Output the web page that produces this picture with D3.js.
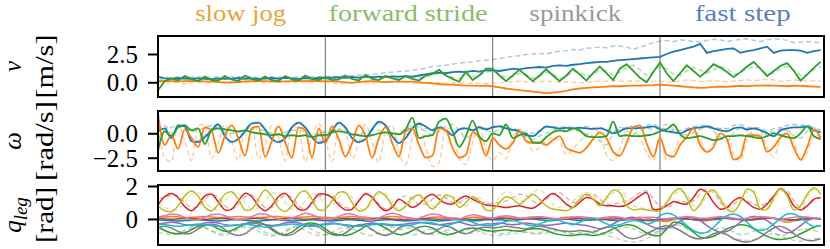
<!DOCTYPE html>
<html>
<head>
<meta charset="utf-8">
<script src="https://cdn.jsdelivr.net/npm/d3@7"></script>
<style>
  body { margin: 0; background: #fff; }
  svg { display: block; }
</style>
</head>
<body>
<svg id="chart" width="830" height="249"></svg>
<script>
// sample step (time units) shared by every series
const DT = 0.04;
const FONT = "'Liberation Serif', 'DejaVu Serif', 'DejaVu Sans', serif";

const phases = ["slow jog", "forward stride", "spinkick", "fast step"];
const phaseColors = ["#e9a23b", "#8cbb6c", "#9a9a9a", "#5b80c0"];
const phaseWidths = [91, 159, 92, 96];
const phaseBounds = [1, 2, 3];

const vTicks = [0, 2.5];
const wTicks = [-2.5, 0];
const qTicks = [0, 2];

// ---- linear velocity v [m/s]
const vBlue = [0.45,0.35,0.3,0.38,0.32,0.3,0.36,0.3,0.28,0.35,0.3,0.33,0.38,0.3,0.35,0.3,0.33,0.38,0.32,0.4,0.35,0.3,0.38,0.33,0.4,
  0.42,0.4,0.45,0.4,0.48,0.42,0.5,0.45,0.5,0.48,0.52,0.5,0.55,0.5,0.6,0.7,0.8,0.85,0.8,0.9,0.95,0.9,1.0,0.95,1.05,
  1.05,1.0,1.1,1.2,1.15,1.25,1.3,1.35,1.3,1.45,1.5,1.45,1.55,1.6,1.7,1.75,1.8,1.8,1.9,1.95,2.0,2.05,2.1,2.15,2.2,
  2.25,2.5,2.7,2.85,3.0,3.15,3.4,2.6,2.75,2.85,2.95,3.0,2.6,2.75,2.85,3.0,3.15,2.6,2.8,2.85,2.85,2.8,2.6,2.75,2.85];
const vBlueRef = [0.5,0.45,0.4,0.5,0.42,0.45,0.5,0.4,0.45,0.5,0.42,0.48,0.5,0.45,0.5,0.42,0.48,0.5,0.45,0.5,0.45,0.5,0.42,0.5,0.48,
  0.5,0.55,0.5,0.6,0.55,0.65,0.6,0.7,0.75,0.85,0.9,0.95,1.0,1.05,1.15,1.25,1.4,1.45,1.5,1.6,1.7,1.75,1.8,1.9,1.95,
  2.0,2.1,2.2,2.3,2.35,2.45,2.5,2.55,2.5,2.65,2.75,2.8,2.9,2.85,3.0,3.05,3.1,3.05,3.2,3.2,3.1,2.9,3.1,3.3,3.5,
  3.65,3.7,3.6,3.75,3.7,3.6,3.55,3.7,3.8,3.75,3.6,3.7,3.8,3.85,3.7,3.6,3.75,3.85,3.8,3.7,3.5,3.55,3.6,3.55,3.5];
const vOrange = [0.1,0.12,0.1,0.08,0.1,0.12,0.1,0.08,0.05,0.02,0.0,-0.02,0.02,0.08,0.1,0.12,0.1,0.08,0.05,0.08,0.1,0.12,0.1,0.12,0.1,
  0.1,0.08,0.05,0.0,-0.05,0.02,0.08,0.1,0.05,0.02,0.05,0.05,0.05,0.05,0.0,-0.05,-0.1,-0.15,-0.2,-0.2,-0.25,-0.3,-0.3,-0.32,-0.3,
  -0.35,-0.45,-0.55,-0.62,-0.7,-0.75,-0.82,-0.9,-0.95,-0.92,-0.85,-0.75,-0.62,-0.55,-0.5,-0.45,-0.42,-0.38,-0.35,-0.35,-0.32,-0.3,-0.3,-0.28,-0.25,
  -0.2,-0.25,-0.3,-0.35,-0.4,-0.45,-0.5,-0.48,-0.4,-0.38,-0.4,-0.35,-0.32,-0.35,-0.3,-0.3,-0.28,-0.3,-0.32,-0.35,-0.3,-0.32,-0.35,-0.38,-0.4];
const vOrangeRef = [0.0,-0.1,-0.05,0.0,-0.15,-0.05,0.0,-0.1,0.0,0.05,-0.1,0.0,0.05,-0.05,0.0,0.05,-0.05,0.05,0.0,0.05,-0.05,0.0,0.05,0.0,0.05,
  0.0,-0.05,-0.15,-0.1,0.0,0.05,-0.05,-0.1,0.0,0.0,0.0,0.05,0.0,-0.05,-0.1,-0.05,0.0,-0.05,-0.1,-0.05,-0.05,-0.1,-0.05,-0.1,-0.1,
  -0.1,-0.05,0.0,0.05,0.1,0.05,0.0,0.05,0.1,0.05,0.0,0.05,0.0,-0.05,0.0,0.05,0.1,0.1,0.15,0.1,0.1,0.15,0.1,0.15,0.1,
  0.1,0.0,0.05,0.1,0.2,0.15,0.05,0.1,0.15,0.1,0.05,0.1,0.15,0.2,0.15,0.2,0.25,0.2,0.1,0.15,0.2,0.15,0.1,0.15,0.1];
const vGreen = [-0.7,0.1,0.35,0.15,0.55,0.3,0.1,0.5,0.2,0.15,0.55,0.25,0.1,0.6,0.3,0.15,0.5,0.2,0.1,0.55,0.25,0.15,0.6,0.3,0.2,
  0.45,0.2,0.25,0.6,0.3,0.15,0.65,0.3,0.2,0.55,0.35,0.2,0.55,0.3,0.15,0.6,0.75,1.1,0.6,0.3,0.05,0.95,0.2,0.6,1.2,
  1.2,0.6,0.1,0.6,1.1,0.6,0.1,0.6,1.15,0.6,0.1,0.6,1.2,0.7,0.15,0.8,1.4,0.8,0.2,1.2,1.6,1.0,0.4,0.0,0.9,
  1.75,0.8,0.1,0.8,1.5,1.0,0.5,1.0,1.6,1.3,0.9,0.45,0.9,1.4,1.8,1.2,0.55,1.0,1.45,1.7,1.0,0.15,0.7,1.3,1.8];
const vGreenRef = [0.2,0.25,0.3,0.2,0.35,0.3,0.2,0.35,0.25,0.3,0.35,0.25,0.2,0.4,0.3,0.25,0.35,0.25,0.2,0.4,0.3,0.25,0.35,0.3,0.3,
  0.3,0.25,0.3,0.4,0.3,0.3,0.45,0.35,0.3,0.45,0.4,0.35,0.5,0.45,0.4,0.5,0.6,0.8,0.65,0.45,0.3,0.7,0.5,0.6,0.9,
  1.0,0.7,0.4,0.5,0.8,0.7,0.35,0.5,0.9,0.75,0.3,0.5,0.95,0.9,0.5,0.7,1.1,1.0,0.6,0.9,1.3,1.5,1.1,0.6,0.9,
  1.4,1.2,0.7,0.6,1.0,1.3,1.1,0.8,1.1,1.4,1.2,0.7,0.8,1.2,1.4,1.2,0.7,0.8,1.2,1.4,1.1,0.6,0.7,1.1,1.4];

// ---- angular velocity omega [rad/s]
const wBlue = [0.2,0.5,-0.5,0.8,0.7,-0.8,-0.9,-0.4,0.3,0.9,-0.3,-0.9,-0.6,0.2,1.0,1.1,0.4,-0.6,-0.9,-0.5,0.6,1.1,0.6,-0.4,-1.0,
  -0.8,0.2,1.1,0.6,-0.5,-0.9,-0.6,0.4,1.2,0.8,-0.3,-1.0,-0.5,0.5,1.0,0.7,0.3,0.6,0.3,-0.2,0.4,0.5,0.3,0.6,0.4,
  0.6,0.7,0.5,0.35,0.2,-0.2,-0.3,0.2,0.7,0.6,0.5,0.55,0.5,0.55,0.5,0.45,0.5,0.3,0.0,0.2,0.5,0.5,0.55,0.6,0.7,
  0.4,0.2,0.1,0.0,0.3,0.5,0.6,0.7,0.5,0.3,0.2,0.5,0.6,0.4,0.5,0.3,0.0,-0.3,0.3,0.5,0.6,0.6,0.7,0.3,0.1];
const wBlueRef = [0.3,0.8,0.0,0.6,0.9,-0.5,-0.8,-0.2,0.5,1.0,0.0,-0.8,-0.5,0.3,1.0,1.0,0.3,-0.5,-0.8,-0.3,0.7,1.0,0.5,-0.3,-0.8,
  -0.6,0.3,1.0,0.5,-0.4,-0.8,-0.4,0.5,1.0,0.7,-0.2,-0.8,-0.3,0.6,0.9,0.5,0.4,0.7,0.4,0.0,0.5,0.6,0.4,0.7,0.5,
  0.7,0.8,0.6,0.5,0.3,0.1,0.0,0.3,0.6,0.7,0.6,0.7,0.6,0.6,0.7,0.5,0.6,0.4,0.2,0.4,0.6,0.7,0.6,0.8,0.9,
  0.6,0.4,0.3,0.3,0.5,0.7,0.8,0.8,0.6,0.5,0.5,0.8,0.9,0.6,0.6,0.5,0.2,0.1,0.5,0.8,0.9,0.8,0.9,0.5,0.3];
const wOrange = [2.0,-1.2,-0.2,-1.6,0.4,-0.5,-1.4,0.6,0.3,-2.0,-0.3,0.8,-0.5,-2.3,0.5,0.7,-2.4,-0.8,0.7,-0.9,-2.5,0.6,0.3,-2.5,0.5,
  -1.0,0.7,-0.6,-2.4,-1.0,0.8,-0.3,-2.5,-0.5,0.6,-1.0,-2.4,0.2,0.5,-1.2,-2.5,-2.3,0.5,0.3,-1.5,-2.5,-2.2,0.1,-0.5,-2.3,
  -0.5,-1.2,-1.6,-1.0,0.2,-0.8,-1.0,-0.9,-1.2,-0.7,-0.3,-1.5,-1.8,-2.0,-1.5,-0.6,0.1,-0.5,-1.9,-2.3,-1.0,0.6,0.8,-1.0,-2.4,
  -0.5,-2.2,-2.4,-1.2,-0.4,0.5,-1.2,-1.9,-1.4,0.0,-0.6,-2.7,-2.4,-0.2,-0.2,-0.3,-1.9,-1.4,-0.4,0.0,-1.5,-2.7,-1.4,0.4,-0.5];
const wOrangeRef = [0.5,-2.5,-2.9,0.9,-0.8,-2.8,0.8,0.9,-2.6,-1.0,0.9,-0.6,-2.8,0.5,0.8,-2.6,-1.2,0.8,-0.4,-2.8,0.7,0.5,-2.9,-0.5,1.0,
  -0.5,-2.9,0.5,0.3,-2.6,-1.0,0.9,-1.0,-3.0,0.2,0.8,-2.0,-3.2,-0.5,1.0,-1.5,-3.4,-3.0,0.6,0.2,-2.6,-3.2,-1.0,0.9,-1.8,
  -2.8,-2.0,-2.6,-0.4,0.4,-0.6,-1.8,-1.5,-0.8,-0.4,-0.8,-2.2,-1.6,-0.8,-0.2,0.6,-0.2,-2.2,-2.8,-1.6,0.4,0.8,-0.5,-2.0,-2.8,
  -0.2,-2.8,-2.0,-0.5,0.3,0.6,-0.5,-2.0,-1.0,0.5,0.4,-2.2,-2.8,-0.8,0.4,0.2,-1.5,-2.4,-0.6,0.5,-0.8,-2.8,-2.0,-0.2,-0.4];
const wGreen = [-1.8,0.2,-0.3,0.6,0.8,0.3,0.5,-1.1,0.3,0.5,0.4,0.3,0.2,0.3,0.1,0.0,-0.1,-0.2,-0.1,-0.3,-0.2,-0.3,-0.2,-0.4,-0.2,
  -0.2,0.1,0.2,0.1,-0.1,-0.2,-0.3,-0.2,0.0,0.1,0.0,-0.1,0.4,1.6,-0.5,-0.3,-0.2,1.2,1.5,0.2,-1.4,-0.3,1.3,-0.3,-0.8,
  0.0,-0.2,0.9,-0.5,-0.2,0.0,-0.9,-1.0,-0.4,0.1,0.3,0.2,0.5,0.3,-0.3,-0.4,-0.4,-0.3,1.2,-0.3,-0.2,-0.3,-0.3,-0.2,-0.1,
  0.2,0.4,0.9,-0.1,-0.5,-0.4,-0.3,-0.5,-0.7,-0.6,-0.3,-0.3,-0.2,-0.3,-0.4,-0.5,-0.3,0.0,-0.2,-0.4,-0.5,0.0,0.7,-0.3,-0.6];
const wGreenRef = [-0.5,0.3,0.6,0.8,0.5,0.2,0.3,0.6,0.8,0.5,0.2,0.0,0.1,0.4,0.6,0.5,0.2,0.0,-0.1,0.1,0.3,0.3,0.1,-0.1,0.0,
  0.1,0.3,0.4,0.2,0.0,-0.1,0.1,0.3,0.3,0.1,0.0,0.1,0.4,0.8,0.6,0.2,-0.2,0.2,0.7,0.9,0.3,-0.5,0.0,0.6,0.3,
  0.1,0.4,0.6,0.2,-0.2,-0.4,-0.6,-0.3,0.0,0.3,0.5,0.4,0.3,0.2,-0.1,-0.3,-0.8,-1.2,0.0,0.6,0.3,-0.1,0.3,0.5,0.4,
  0.6,0.9,0.4,0.0,-0.2,0.1,0.4,0.6,0.2,-0.4,-0.8,0.0,0.5,0.3,-0.2,-0.5,0.0,0.5,0.6,0.3,-0.3,-0.5,0.2,0.6,0.3];

// ---- leg joint positions q_leg [rad]
const qBlue = [-0.05,-0.08,-0.1,-0.12,-0.1,-0.08,-0.05,-0.08,-0.1,-0.12,-0.1,-0.05,-0.05,-0.08,-0.12,-0.12,-0.1,-0.05,-0.05,-0.1,-0.12,-0.1,-0.08,-0.05,-0.08,
  -0.1,-0.12,-0.1,-0.05,-0.05,-0.08,-0.12,-0.12,-0.08,-0.05,-0.05,-0.1,-0.12,-0.1,-0.05,-0.05,-0.1,-0.12,-0.1,-0.05,-0.05,-0.08,-0.12,-0.1,-0.05,
  -0.05,-0.05,-0.08,-0.1,-0.05,0.0,0.0,-0.05,-0.1,-0.1,-0.05,0.0,-0.05,-0.1,-0.08,-0.05,0.0,-0.05,-0.1,-0.08,-0.05,0.0,-0.05,-0.1,-0.1,
  -0.1,-0.05,0.0,0.05,0.0,-0.05,-0.1,-0.1,-0.05,0.0,0.05,0.0,-0.05,-0.1,-0.05,0.0,0.05,0.05,0.0,-0.05,-0.1,-0.05,0.0,0.05,0.0];
const qOrange = [0.1,0.12,0.15,0.12,0.08,0.1,0.12,0.15,0.12,0.08,0.1,0.12,0.15,0.12,0.1,0.08,0.1,0.15,0.15,0.1,0.08,0.1,0.12,0.15,0.12,
  0.1,0.08,0.1,0.12,0.15,0.12,0.1,0.05,0.08,0.12,0.15,0.12,0.1,0.05,0.0,0.05,0.1,0.12,0.1,0.05,0.02,0.05,0.1,0.1,0.05,
  0.05,0.1,0.12,0.08,0.05,0.08,0.12,0.1,0.05,0.0,0.05,0.1,0.12,0.08,0.0,-0.05,0.0,0.08,0.1,0.05,0.0,0.05,0.1,0.05,-0.05,
  -0.1,-0.15,-0.05,0.05,0.1,0.05,-0.05,-0.1,0.0,0.1,0.12,0.05,-0.05,-0.1,0.0,0.08,0.1,0.05,-0.1,-0.2,-0.1,0.05,0.1,0.05,0.0];
const qGreen = [-0.45,-0.7,-0.85,-0.9,-0.85,-0.65,-0.45,-0.35,-0.4,-0.6,-0.75,-0.7,-0.5,-0.3,-0.2,-0.2,-0.35,-0.65,-0.9,-0.95,-0.8,-0.5,-0.3,-0.25,-0.35,
  -0.6,-0.85,-0.95,-1.0,-0.9,-0.7,-0.45,-0.3,-0.35,-0.55,-0.8,-0.95,-0.9,-0.7,-0.5,-0.45,-0.55,-0.8,-0.95,-0.9,-0.75,-0.6,-0.55,-0.6,-0.7,
  -0.75,-0.7,-0.65,-0.7,-0.75,-0.65,-0.6,-0.6,-0.7,-0.85,-0.95,-1.0,-1.0,-0.95,-0.95,-1.0,-0.95,-0.8,-0.6,-0.45,-0.35,-0.4,-0.6,-0.85,-1.0,
  -1.0,-0.6,-0.2,-0.25,-0.5,-0.8,-1.1,-1.15,-1.05,-0.85,-0.6,-0.45,-0.35,-0.4,-0.6,-0.85,-1.05,-1.2,-1.25,-1.2,-1.1,-0.9,-0.7,-0.5,-0.4];
const qGreenRef = [-0.8,-0.9,-0.95,-0.85,-0.7,-0.5,-0.4,-0.5,-0.7,-0.85,-0.9,-0.75,-0.55,-0.4,-0.4,-0.55,-0.8,-0.95,-0.95,-0.8,-0.55,-0.4,-0.45,-0.65,-0.85,
  -0.95,-0.95,-0.85,-0.65,-0.45,-0.4,-0.5,-0.7,-0.9,-0.95,-0.85,-0.65,-0.55,-0.6,-0.75,-0.9,-0.95,-0.85,-0.7,-0.65,-0.75,-0.85,-0.85,-0.75,-0.7,
  -0.8,-0.9,-0.85,-0.75,-0.7,-0.8,-0.9,-0.85,-0.7,-0.6,-0.7,-0.85,-0.9,-0.85,-0.75,-0.7,-0.8,-0.9,-0.8,-0.6,-0.5,-0.6,-0.8,-0.9,-0.85,
  -0.7,-0.5,-0.35,-0.4,-0.6,-0.8,-0.9,-0.85,-0.7,-0.55,-0.6,-0.8,-0.95,-0.9,-0.75,-0.6,-0.65,-0.85,-1.0,-0.95,-0.8,-0.65,-0.6,-0.7,-0.8];
const qRed = [0.85,1.35,1.55,1.3,0.75,0.5,0.85,1.4,1.5,1.05,0.55,0.6,1.1,1.55,1.35,0.8,0.5,0.8,1.35,1.55,1.1,0.6,0.55,1.0,1.5,
  1.5,1.3,0.85,0.55,0.6,1.1,1.55,1.3,0.8,0.5,0.7,1.2,0.95,0.7,0.9,1.3,1.5,1.2,0.95,0.9,1.2,1.4,1.2,1.0,0.85,
  0.8,0.75,0.7,0.75,0.8,0.7,0.65,0.9,1.3,1.55,1.3,0.9,0.7,1.0,1.3,1.2,0.9,0.8,0.8,0.75,0.85,1.1,1.4,1.6,0.6,
  0.6,0.8,1.05,0.95,0.9,1.3,1.8,1.6,1.0,0.6,0.7,1.1,1.3,1.0,0.7,0.6,0.9,1.4,1.85,1.5,0.8,0.55,0.8,1.2,1.3];
const qRedRef = [1.25,1.3,1.45,1.4,1.0,0.7,0.75,1.2,1.45,1.3,0.8,0.6,0.9,1.35,1.45,1.1,0.7,0.7,1.15,1.45,1.3,0.8,0.6,0.9,1.35,
  1.45,1.4,1.0,0.7,0.7,1.1,1.45,1.35,0.9,0.6,0.8,1.2,1.4,1.2,0.9,0.9,1.2,1.45,1.3,1.0,1.0,1.25,1.3,1.1,0.95,
  0.95,1.0,1.1,1.3,1.5,1.4,1.1,0.9,1.2,1.5,1.6,1.3,1.0,1.1,1.4,1.5,1.2,0.9,0.9,1.0,1.1,1.3,1.6,1.7,1.2,
  0.8,0.7,0.9,1.1,1.0,1.1,1.5,1.8,1.6,1.0,0.7,0.9,1.2,1.1,0.9,0.8,1.0,1.4,1.8,1.7,1.1,0.7,0.8,1.1,1.3];
const qPurple = [-0.3,-0.25,-0.2,-0.25,-0.35,-0.4,-0.35,-0.25,-0.2,-0.25,-0.35,-0.4,-0.35,-0.3,-0.25,-0.3,-0.35,-0.4,-0.35,-0.25,-0.2,-0.25,-0.35,-0.4,-0.35,
  -0.3,-0.25,-0.3,-0.4,-0.45,-0.4,-0.3,-0.25,-0.3,-0.35,-0.4,-0.35,-0.3,-0.25,-0.2,-0.25,-0.3,-0.35,-0.3,-0.25,-0.2,-0.3,-0.4,-0.35,-0.3,
  -0.3,-0.25,-0.3,-0.35,-0.3,-0.25,-0.3,-0.35,-0.4,-0.35,-0.3,-0.25,-0.3,-0.35,-0.4,-0.5,-0.6,-0.5,-0.3,-0.1,0.05,0.1,-0.05,-0.3,-0.5,
  -0.6,-0.55,-0.4,-0.15,0.05,0.1,-0.1,-0.4,-0.65,-0.8,-0.75,-0.5,-0.2,0.05,0.15,0.1,-0.1,-0.4,-0.7,-0.85,-0.7,-0.4,-0.1,0.05,0.0];
const qBrown = [0.02,0.0,-0.02,0.0,0.03,0.02,0.0,-0.02,0.0,0.02,0.03,0.0,-0.02,0.0,0.02,0.03,0.0,-0.03,0.0,0.02,0.02,0.0,-0.02,0.0,0.02,
  0.0,-0.03,0.0,0.03,0.02,0.0,-0.02,0.0,0.02,0.03,0.0,-0.02,-0.03,0.0,0.02,0.02,0.0,-0.02,0.0,0.03,0.02,0.0,-0.03,-0.02,0.0,
  0.02,0.05,0.03,0.0,-0.02,0.0,0.03,0.05,0.02,0.0,-0.02,0.0,0.03,0.02,0.0,-0.03,-0.05,-0.02,0.0,0.03,0.02,0.0,-0.05,-0.08,-0.05,
  -0.02,0.02,0.05,0.03,0.0,-0.03,-0.05,-0.02,0.02,0.05,0.03,0.0,-0.03,-0.05,-0.02,0.02,0.05,0.03,0.0,-0.03,-0.05,-0.02,0.02,0.03,0.0];
const qPink = [0.1,0.2,0.3,0.25,0.1,-0.05,-0.05,0.1,0.25,0.3,0.2,0.05,-0.05,0.0,0.15,0.3,0.3,0.15,0.0,-0.05,0.05,0.2,0.35,0.25,0.1,
  0.0,0.0,0.15,0.3,0.3,0.15,0.0,-0.05,0.05,0.25,0.35,0.25,0.1,0.0,0.05,0.2,0.3,0.25,0.1,0.0,0.0,0.15,0.25,0.2,0.1,
  0.05,0.15,0.2,0.15,0.05,0.05,0.1,0.15,0.1,0.05,0.0,0.05,0.1,0.15,0.1,0.05,0.05,0.1,0.15,0.1,0.0,0.0,0.05,0.1,0.1,
  0.05,0.0,0.05,0.1,0.15,0.1,0.05,0.05,0.1,0.15,0.1,0.05,0.0,0.05,0.1,0.15,0.1,0.05,0.0,0.05,0.1,0.15,0.1,0.05,0.05];
const qGray = [-0.5,-0.45,-0.55,-0.75,-0.9,-0.85,-0.6,-0.4,-0.3,-0.4,-0.65,-0.9,-1.0,-0.9,-0.6,-0.4,-0.35,-0.55,-0.85,-1.0,-0.95,-0.7,-0.45,-0.35,-0.5,
  -0.75,-0.95,-1.0,-0.85,-0.55,-0.35,-0.4,-0.65,-0.9,-1.0,-0.85,-0.55,-0.4,-0.45,-0.7,-0.9,-0.85,-0.6,-0.45,-0.55,-0.8,-0.9,-0.75,-0.55,-0.5,
  -0.55,-0.5,-0.45,-0.5,-0.55,-0.6,-0.5,-0.45,-0.5,-0.6,-0.7,-0.75,-0.75,-0.7,-0.75,-0.8,-0.65,-0.5,-0.5,-0.8,-1.1,-1.2,-1.1,-0.9,-0.7,
  -0.5,-0.4,-0.5,-0.7,-0.95,-1.15,-1.2,-1.1,-0.9,-0.8,-0.95,-1.2,-1.35,-1.4,-1.3,-1.1,-0.8,-0.55,-0.45,-0.6,-0.9,-1.15,-1.3,-1.3,-1.2];
const qGrayRef = [-0.6,-0.7,-0.85,-0.9,-0.8,-0.6,-0.5,-0.55,-0.75,-0.95,-1.0,-0.85,-0.6,-0.5,-0.55,-0.75,-0.95,-1.05,-0.95,-0.7,-0.5,-0.5,-0.7,-0.9,-1.0,
  -0.95,-0.8,-0.6,-0.5,-0.6,-0.8,-0.95,-1.0,-0.85,-0.6,-0.5,-0.6,-0.8,-0.95,-0.9,-0.7,-0.6,-0.65,-0.8,-0.9,-0.85,-0.7,-0.65,-0.75,-0.9,
  -1.0,-1.0,-0.95,-0.9,-0.85,-0.8,-0.85,-0.9,-0.85,-0.75,-0.7,-0.8,-0.9,-0.95,-0.9,-0.85,-0.9,-1.0,-1.1,-1.25,-1.35,-1.4,-1.35,-1.2,-1.0,
  -0.8,-0.6,-0.55,-0.7,-0.9,-1.1,-1.2,-1.15,-1.0,-0.9,-1.0,-1.15,-1.25,-1.3,-1.25,-1.1,-0.95,-0.9,-1.0,-1.2,-1.3,-1.35,-1.3,-1.2,-1.1];
const qOlive = [0.8,0.5,0.45,0.8,1.4,1.7,1.4,0.7,0.5,0.9,1.5,1.65,1.2,0.55,0.6,1.2,1.75,1.4,0.7,0.45,0.8,1.5,1.7,1.2,0.55,
  0.6,1.1,1.6,1.6,1.0,0.5,0.6,1.2,1.65,1.4,0.8,0.5,0.8,1.3,1.45,1.0,0.6,1.0,1.45,1.3,0.7,1.0,1.35,1.1,0.55,
  0.55,1.0,1.35,1.2,0.9,1.2,1.5,1.2,0.8,0.6,0.55,0.5,0.7,1.2,1.5,1.2,0.8,1.3,1.75,1.6,0.8,0.55,0.6,0.55,0.5,
  0.5,1.0,1.6,1.85,1.3,0.5,0.9,1.6,1.75,1.2,0.6,0.45,1.0,1.8,1.6,0.6,0.6,1.3,1.85,1.4,0.55,0.8,1.5,1.9,1.5];
const qOliveRef = [1.0,0.7,0.55,0.6,1.0,1.5,1.6,1.1,0.65,0.6,1.1,1.5,1.55,1.0,0.6,0.65,1.1,1.55,1.55,1.0,0.6,0.6,1.1,1.5,1.4,
  0.9,0.8,1.3,1.6,1.3,0.7,0.6,1.0,1.5,1.55,1.0,0.6,0.7,1.1,1.5,1.2,0.8,0.9,1.3,1.4,1.0,0.8,1.1,1.3,1.0,
  0.8,1.3,1.65,1.5,1.1,1.2,1.6,1.8,1.4,0.9,0.7,0.8,1.1,1.4,1.6,1.4,1.0,1.2,1.6,1.8,1.3,0.8,0.7,0.6,0.6,
  0.6,0.9,1.4,1.7,1.5,0.8,0.8,1.4,1.75,1.4,0.8,0.6,0.9,1.6,1.7,1.0,0.6,1.1,1.7,1.6,0.8,0.7,1.3,1.8,1.7];
const qCyan = [-0.3,-0.35,-0.4,-0.45,-0.4,-0.35,-0.3,-0.35,-0.4,-0.45,-0.45,-0.4,-0.35,-0.3,-0.35,-0.45,-0.5,-0.45,-0.4,-0.35,-0.3,-0.35,-0.4,-0.45,-0.4,
  -0.35,-0.3,-0.3,-0.35,-0.4,-0.45,-0.4,-0.35,-0.3,-0.3,-0.35,-0.4,-0.4,-0.35,-0.25,-0.2,-0.25,-0.35,-0.4,-0.3,-0.15,-0.1,-0.2,-0.35,-0.4,
  -0.4,-0.3,-0.15,-0.1,-0.2,-0.35,-0.4,-0.3,-0.15,-0.05,-0.1,-0.25,-0.35,-0.2,0.0,0.05,-0.1,-0.3,-0.4,-0.35,-0.2,-0.1,-0.15,-0.3,-0.2,
  0.2,0.35,0.25,-0.05,-0.4,-0.7,-0.85,-0.8,-0.5,-0.1,0.2,0.3,0.15,-0.2,-0.55,-0.7,-0.6,-0.3,0.05,0.3,0.3,0.1,-0.25,-0.45,-0.4];

const tab = { blue: "#1f77b4", orange: "#ff7f0e", green: "#2ca02c", red: "#d62728", purple: "#9467bd",
  brown: "#8c564b", pink: "#e377c2", gray: "#7f7f7f", olive: "#bcbd22", cyan: "#17becf" };

const panels = [
  { top: 36, bottom: 97, domain: [-1.30, 4.09], ticks: vTicks, fmt: d3.format(".1f"), curve: d3.curveLinear,
    sym: "v", unit: "[m/s]", unitLen: 64,
    series: [
      { v: vBlueRef, c: tab.blue, ref: true }, { v: vOrangeRef, c: tab.orange, ref: true }, { v: vGreenRef, c: tab.green, ref: true },
      { v: vBlue, c: tab.blue }, { v: vOrange, c: tab.orange }, { v: vGreen, c: tab.green }] },
  { top: 111, bottom: 171, domain: [-3.86, 2.28], ticks: wTicks, fmt: d3.format(".1f"), curve: d3.curveMonotoneX,
    sym: "ω", unit: "[rad/s]", unitLen: 80,
    series: [
      { v: wBlueRef, c: tab.blue, ref: true }, { v: wOrangeRef, c: tab.orange, ref: true }, { v: wGreenRef, c: tab.green, ref: true },
      { v: wBlue, c: tab.blue }, { v: wOrange, c: tab.orange }, { v: wGreen, c: tab.green }] },
  { top: 185, bottom: 245, domain: [-1.58, 2.06], ticks: qTicks, fmt: d3.format("d"), curve: d3.curveCatmullRom,
    sym: "q", unit: "[rad]", unitLen: 56,
    series: [
      { v: qRedRef, c: tab.red, ref: true }, { v: qOliveRef, c: tab.olive, ref: true },
      { v: qGreenRef, c: tab.green, ref: true }, { v: qGrayRef, c: tab.gray, ref: true },
      { v: qBlue, c: tab.blue }, { v: qOrange, c: tab.orange }, { v: qGreen, c: tab.green }, { v: qRed, c: tab.red },
      { v: qPurple, c: tab.purple }, { v: qBrown, c: tab.brown }, { v: qPink, c: tab.pink }, { v: qGray, c: tab.gray },
      { v: qOlive, c: tab.olive }, { v: qCyan, c: tab.cyan }] }
];

const svg = d3.select("#chart").attr("font-family", FONT);
const x = d3.scaleLinear().domain([0, 3.98]).range([158, 824]);

// phase titles
svg.selectAll("text.phase")
  .data(phases)
  .enter().append("text")
  .attr("class", "phase")
  .attr("x", (d, i) => x(i + 0.5) - 1)
  .attr("y", 21)
  .attr("text-anchor", "middle")
  .attr("font-size", 24)
  .attr("textLength", (d, i) => phaseWidths[i])
  .attr("lengthAdjust", "spacingAndGlyphs")
  .attr("fill", (d, i) => phaseColors[i])
  .text(d => d);

panels.forEach((p, pi) => {
  const y = d3.scaleLinear().domain(p.domain).range([p.bottom, p.top]);
  const mid = (p.top + p.bottom) / 2;
  const g = svg.append("g");

  g.append("clipPath").attr("id", "clip" + pi)
    .append("rect").attr("x", x.range()[0]).attr("y", p.top)
    .attr("width", x.range()[1] - x.range()[0]).attr("height", p.bottom - p.top);

  // phase separators
  g.selectAll("line.sep")
    .data(phaseBounds)
    .enter().append("line")
    .attr("x1", d => x(d)).attr("x2", d => x(d))
    .attr("y1", p.top).attr("y2", p.bottom)
    .attr("stroke", "#808080").attr("stroke-width", 1.2);

  const line = d3.line()
    .x((d, i) => x(i * DT))
    .y(d => y(d))
    .curve(p.curve);

  g.append("g").attr("clip-path", `url(#clip${pi})`)
    .selectAll("path")
    .data(p.series)
    .enter().append("path")
    .attr("d", s => line(s.v))
    .attr("fill", "none")
    .attr("stroke", s => s.c)
    .attr("stroke-width", s => s.ref ? 1.4 : (pi === 2 ? 1.5 : 1.8))
    .attr("stroke-opacity", s => s.ref ? 0.4 : 1)
    .attr("stroke-dasharray", s => s.ref ? "5,3" : null);

  // frame
  g.append("rect")
    .attr("x", x.range()[0]).attr("y", p.top)
    .attr("width", x.range()[1] - x.range()[0]).attr("height", p.bottom - p.top)
    .attr("fill", "none").attr("stroke", "#000").attr("stroke-width", 2);

  const axis = g.append("g")
    .attr("transform", `translate(${x.range()[0]},0)`)
    .call(d3.axisLeft(y).tickValues(p.ticks).tickFormat(p.fmt).tickSize(10).tickPadding(10));
  axis.attr("font-family", FONT);
  axis.select(".domain").remove();
  axis.selectAll(".tick line").attr("stroke", "#000").attr("stroke-width", 2);
  axis.selectAll(".tick text")
    .attr("fill", "#000")
    .attr("font-size", 25)
    .attr("dy", "0.34em");

  // y labels: symbol line and unit line, both centred on the panel
  const sym = svg.append("text")
    .attr("transform", `translate(21,${mid}) rotate(-90)`)
    .attr("text-anchor", "middle")
    .attr("font-size", 25)
    .attr("font-style", "italic");
  sym.append("tspan").text(p.sym);
  if (p.sym === "q") {
    sym.append("tspan").attr("font-size", 19).attr("dy", 6).text("leg");
  }
  svg.append("text")
    .attr("transform", `translate(53,${mid}) rotate(-90)`)
    .attr("text-anchor", "middle")
    .attr("font-size", 26)
    .attr("textLength", p.unitLen)
    .attr("lengthAdjust", "spacingAndGlyphs")
    .text(p.unit);
});
</script>
</body>
</html>
